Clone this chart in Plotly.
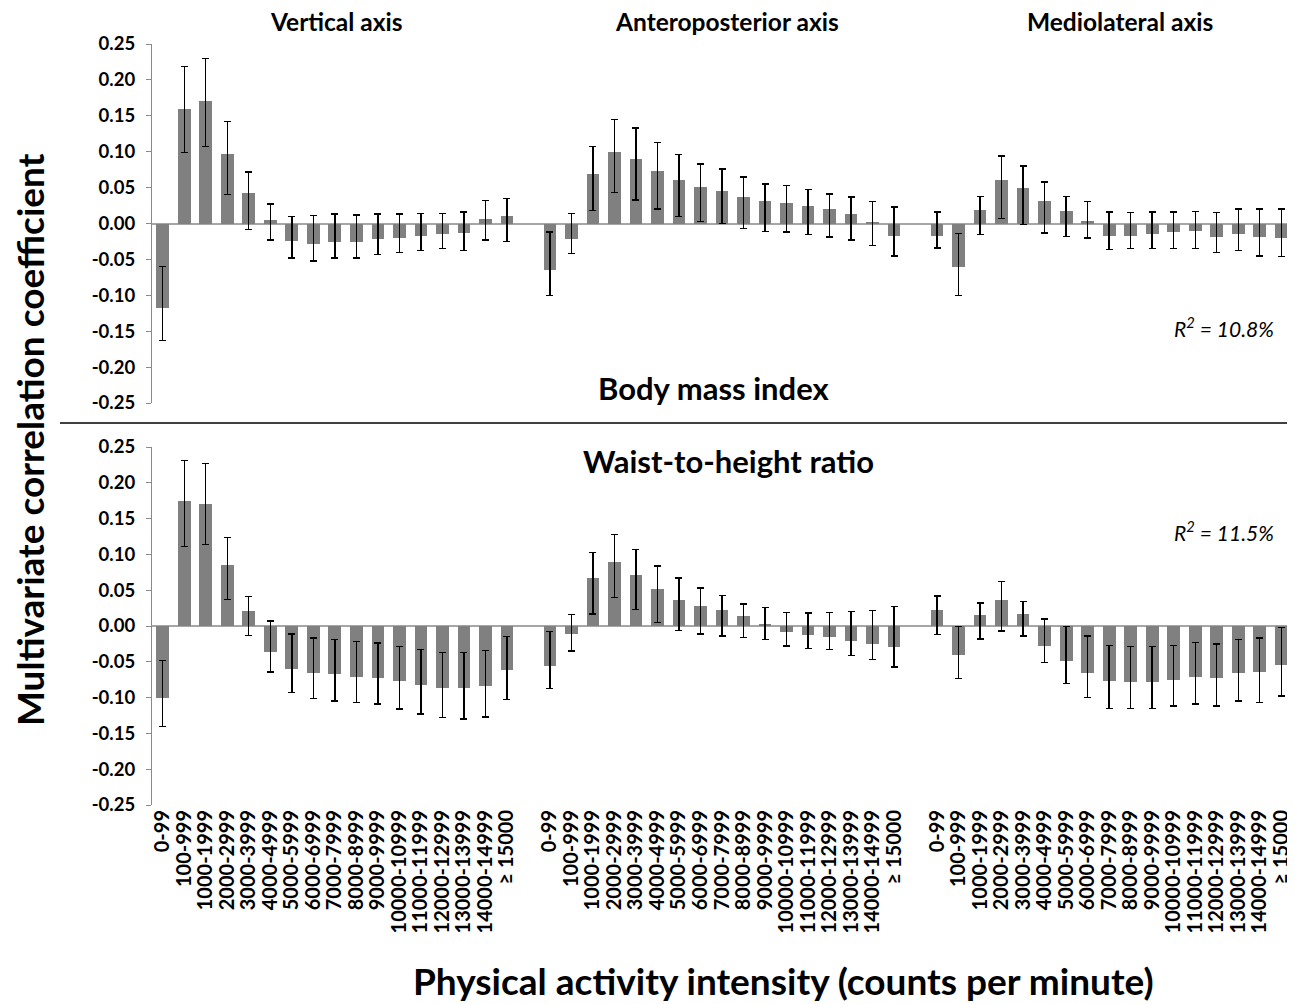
import plotly.graph_objects as go

categories = ["0-99", "100-999", "1000-1999", "2000-2999", "3000-3999", "4000-4999",
              "5000-5999", "6000-6999", "7000-7999", "8000-8999", "9000-9999",
              "10000-10999", "11000-11999", "12000-12999", "13000-13999",
              "14000-14999", "\u2265 15000"]
axes_names = ["Vertical axis", "Anteroposterior axis", "Mediolateral axis"]
y_tick_vals = [-0.25, -0.20, -0.15, -0.10, -0.05, 0.00, 0.05, 0.10, 0.15, 0.20, 0.25]
y_tick_text = ["-0.25", "-0.20", "-0.15", "-0.10", "-0.05", "0.00", "0.05", "0.10", "0.15", "0.20", "0.25"]

# Body mass index (top panel): coefficient, lower CI, upper CI
bmi_vert = [-0.117, 0.160, 0.170, 0.097, 0.042, 0.005, -0.025, -0.028, -0.026, -0.026, -0.022, -0.020, -0.018, -0.015, -0.013, 0.006, 0.010]
bmi_vert_lo = [-0.163, 0.099, 0.107, 0.040, -0.008, -0.023, -0.048, -0.052, -0.048, -0.048, -0.043, -0.040, -0.038, -0.035, -0.038, -0.023, -0.025]
bmi_vert_hi = [-0.060, 0.219, 0.230, 0.142, 0.072, 0.027, 0.010, 0.011, 0.013, 0.012, 0.013, 0.013, 0.014, 0.014, 0.016, 0.032, 0.035]

bmi_ap = [-0.065, -0.021, 0.069, 0.100, 0.090, 0.073, 0.060, 0.051, 0.045, 0.037, 0.031, 0.029, 0.025, 0.020, 0.013, 0.001, -0.017]
bmi_ap_lo = [-0.100, -0.042, 0.018, 0.043, 0.033, 0.020, 0.010, 0.003, 0.000, -0.007, -0.011, -0.012, -0.015, -0.019, -0.023, -0.031, -0.045]
bmi_ap_hi = [-0.012, 0.014, 0.107, 0.145, 0.133, 0.113, 0.096, 0.083, 0.076, 0.065, 0.055, 0.053, 0.047, 0.041, 0.037, 0.031, 0.023]

bmi_ml = [-0.017, -0.061, 0.019, 0.060, 0.050, 0.032, 0.018, 0.004, -0.018, -0.017, -0.015, -0.012, -0.010, -0.019, -0.014, -0.019, -0.020]
bmi_ml_lo = [-0.034, -0.100, -0.015, 0.007, -0.001, -0.013, -0.018, -0.020, -0.036, -0.035, -0.035, -0.035, -0.035, -0.040, -0.038, -0.045, -0.046]
bmi_ml_hi = [0.016, -0.014, 0.038, 0.094, 0.080, 0.058, 0.038, 0.031, 0.016, 0.015, 0.016, 0.016, 0.017, 0.015, 0.020, 0.020, 0.020]

# Waist-to-height ratio (bottom panel)
whr_vert = [-0.101, 0.175, 0.171, 0.085, 0.021, -0.037, -0.060, -0.066, -0.067, -0.071, -0.072, -0.077, -0.082, -0.086, -0.086, -0.084, -0.061]
whr_vert_lo = [-0.140, 0.111, 0.114, 0.037, -0.013, -0.064, -0.093, -0.101, -0.105, -0.107, -0.109, -0.116, -0.123, -0.128, -0.130, -0.127, -0.103]
whr_vert_hi = [-0.048, 0.231, 0.227, 0.124, 0.041, 0.007, -0.011, -0.017, -0.019, -0.022, -0.024, -0.029, -0.033, -0.037, -0.037, -0.034, -0.015]

whr_ap = [-0.056, -0.011, 0.067, 0.089, 0.071, 0.051, 0.037, 0.028, 0.022, 0.014, 0.002, -0.009, -0.013, -0.015, -0.021, -0.025, -0.030]
whr_ap_lo = [-0.087, -0.035, 0.017, 0.040, 0.023, 0.005, -0.006, -0.011, -0.014, -0.016, -0.019, -0.028, -0.031, -0.033, -0.041, -0.047, -0.057]
whr_ap_hi = [-0.008, 0.016, 0.103, 0.128, 0.107, 0.084, 0.067, 0.053, 0.043, 0.031, 0.026, 0.019, 0.018, 0.019, 0.020, 0.022, 0.027]

whr_ml = [0.022, -0.041, 0.015, 0.037, 0.017, -0.028, -0.049, -0.065, -0.077, -0.078, -0.078, -0.075, -0.071, -0.072, -0.065, -0.064, -0.055]
whr_ml_lo = [-0.012, -0.073, -0.018, -0.007, -0.014, -0.051, -0.080, -0.100, -0.115, -0.115, -0.115, -0.112, -0.109, -0.112, -0.105, -0.107, -0.098]
whr_ml_hi = [0.042, -0.001, 0.032, 0.062, 0.034, 0.010, -0.001, -0.014, -0.027, -0.029, -0.029, -0.027, -0.023, -0.025, -0.019, -0.017, -0.002]

panels = [
    ("Body mass index", "R<sup>2</sup> = 10.8%",
     [(bmi_vert, bmi_vert_lo, bmi_vert_hi), (bmi_ap, bmi_ap_lo, bmi_ap_hi), (bmi_ml, bmi_ml_lo, bmi_ml_hi)]),
    ("Waist-to-height ratio", "R<sup>2</sup> = 11.5%",
     [(whr_vert, whr_vert_lo, whr_vert_hi), (whr_ap, whr_ap_lo, whr_ap_hi), (whr_ml, whr_ml_lo, whr_ml_hi)]),
]

FONT = "Lato, 'Open Sans', sans-serif"
OFF = 8                      # page body margin
W, H = 1295 - OFF, 1004 - OFF
ML, MR, MT, MB = 20, 0, 10, 10
PW, PH = W - ML - MR, H - MT - MB
n = len(categories)
step = n + 1  # one empty slot between groups


def pxx(px):
    return ((px - OFF) - ML) / PW


def py(px):
    return ((H - MB) - (px - OFF)) / PH


fig = go.Figure()

domains = [(py(403), py(44)), (py(805), py(447))]
xdom = [pxx(152), pxx(1292)]

xs_all, xt_all = [], []
for g in range(3):
    for i, c in enumerate(categories):
        xs_all.append(g * step + i)
        xt_all.append(c)

for p, (pname, r2, groups) in enumerate(panels):
    xa = "x" if p == 0 else "x2"
    ya = "y" if p == 0 else "y2"
    for g, (vals, lo, hi) in enumerate(groups):
        xs = [g * step + i for i in range(n)]
        fig.add_trace(go.Bar(
            x=xs, y=vals, xaxis=xa, yaxis=ya, width=0.59,
            marker=dict(color="#808080", line=dict(width=0)),
            error_y=dict(type="data", symmetric=False,
                         array=[h - v for h, v in zip(hi, vals)],
                         arrayminus=[v - l for v, l in zip(vals, lo)],
                         color="black", thickness=1.4, width=3.5),
            showlegend=False, hoverinfo="skip"))

axis_common = dict(range=[-0.5, 3 * step - 1.5], domain=xdom, showgrid=False,
                   showline=False, zeroline=False, fixedrange=True, automargin=False)
yaxis_common = dict(range=[-0.25, 0.25], tickmode="array", tickvals=y_tick_vals, ticktext=y_tick_text,
                    showgrid=False, showline=True, linecolor="#8a8a8a", linewidth=1.3,
                    ticks="outside", ticklen=5, tickcolor="#8a8a8a", tickwidth=1.3,
                    ticklabelstandoff=7,
                    zeroline=True, zerolinecolor="#a6a6a6", zerolinewidth=1.6,
                    automargin=False, fixedrange=True,
                    tickfont=dict(family=FONT, size=18.5, color="black", weight="bold"))

fig.update_layout(
    width=W, height=H, margin=dict(l=ML, r=MR, t=MT, b=MB, autoexpand=False),
    paper_bgcolor="white", plot_bgcolor="white", bargap=0,
    xaxis=dict(**axis_common, anchor="y", showticklabels=False, ticks=""),
    xaxis2=dict(**axis_common, anchor="y2", tickmode="array", tickvals=xs_all,
                ticktext=xt_all, tickangle=-90, ticks="",
                tickfont=dict(family=FONT, size=20, color="black", weight="bold")),
    yaxis=dict(**yaxis_common, domain=list(domains[0]), anchor="x"),
    yaxis2=dict(**yaxis_common, domain=list(domains[1]), anchor="x2"),
)

annotations = []
group_title_x = [336, 727, 1120]
for name, gx in zip(axes_names, group_title_x):
    annotations.append(dict(text=name, x=pxx(gx), y=py(22), xref="paper", yref="paper",
                            showarrow=False, xanchor="center", yanchor="middle",
                            font=dict(family=FONT, size=24.5, color="black", weight="bold")))
annotations.append(dict(text=panels[0][0], x=pxx(713), y=py(388), xref="paper", yref="paper",
                        showarrow=False, xanchor="center", yanchor="middle",
                        font=dict(family=FONT, size=31, color="black", weight="bold")))
annotations.append(dict(text=panels[1][0], x=pxx(728), y=py(461), xref="paper", yref="paper",
                        showarrow=False, xanchor="center", yanchor="middle",
                        font=dict(family=FONT, size=31, color="black", weight="bold")))
for txt, yy in [(panels[0][1], 327), (panels[1][1], 531)]:
    annotations.append(dict(text="<i>" + txt + "</i>", x=pxx(1276), y=py(yy), xref="paper", yref="paper",
                            showarrow=False, xanchor="right", yanchor="middle",
                            font=dict(family=FONT, size=21, color="black")))
annotations.append(dict(text="Multivariate correlation coefficient", x=pxx(30), y=py(440),
                        xref="paper", yref="paper", showarrow=False, textangle=-90,
                        xanchor="center", yanchor="middle",
                        font=dict(family=FONT, size=37, color="black", weight="bold")))
annotations.append(dict(text="Physical activity intensity (counts per minute)", x=pxx(783), y=py(980),
                        xref="paper", yref="paper", showarrow=False,
                        xanchor="center", yanchor="middle",
                        font=dict(family=FONT, size=37, color="black", weight="bold")))
fig.update_layout(annotations=annotations)

fig.add_shape(type="line", xref="paper", yref="paper", x0=pxx(60), x1=pxx(1300), y0=py(423), y1=py(423),
              line=dict(color="black", width=1.5))

fig.write_html("out.html")
